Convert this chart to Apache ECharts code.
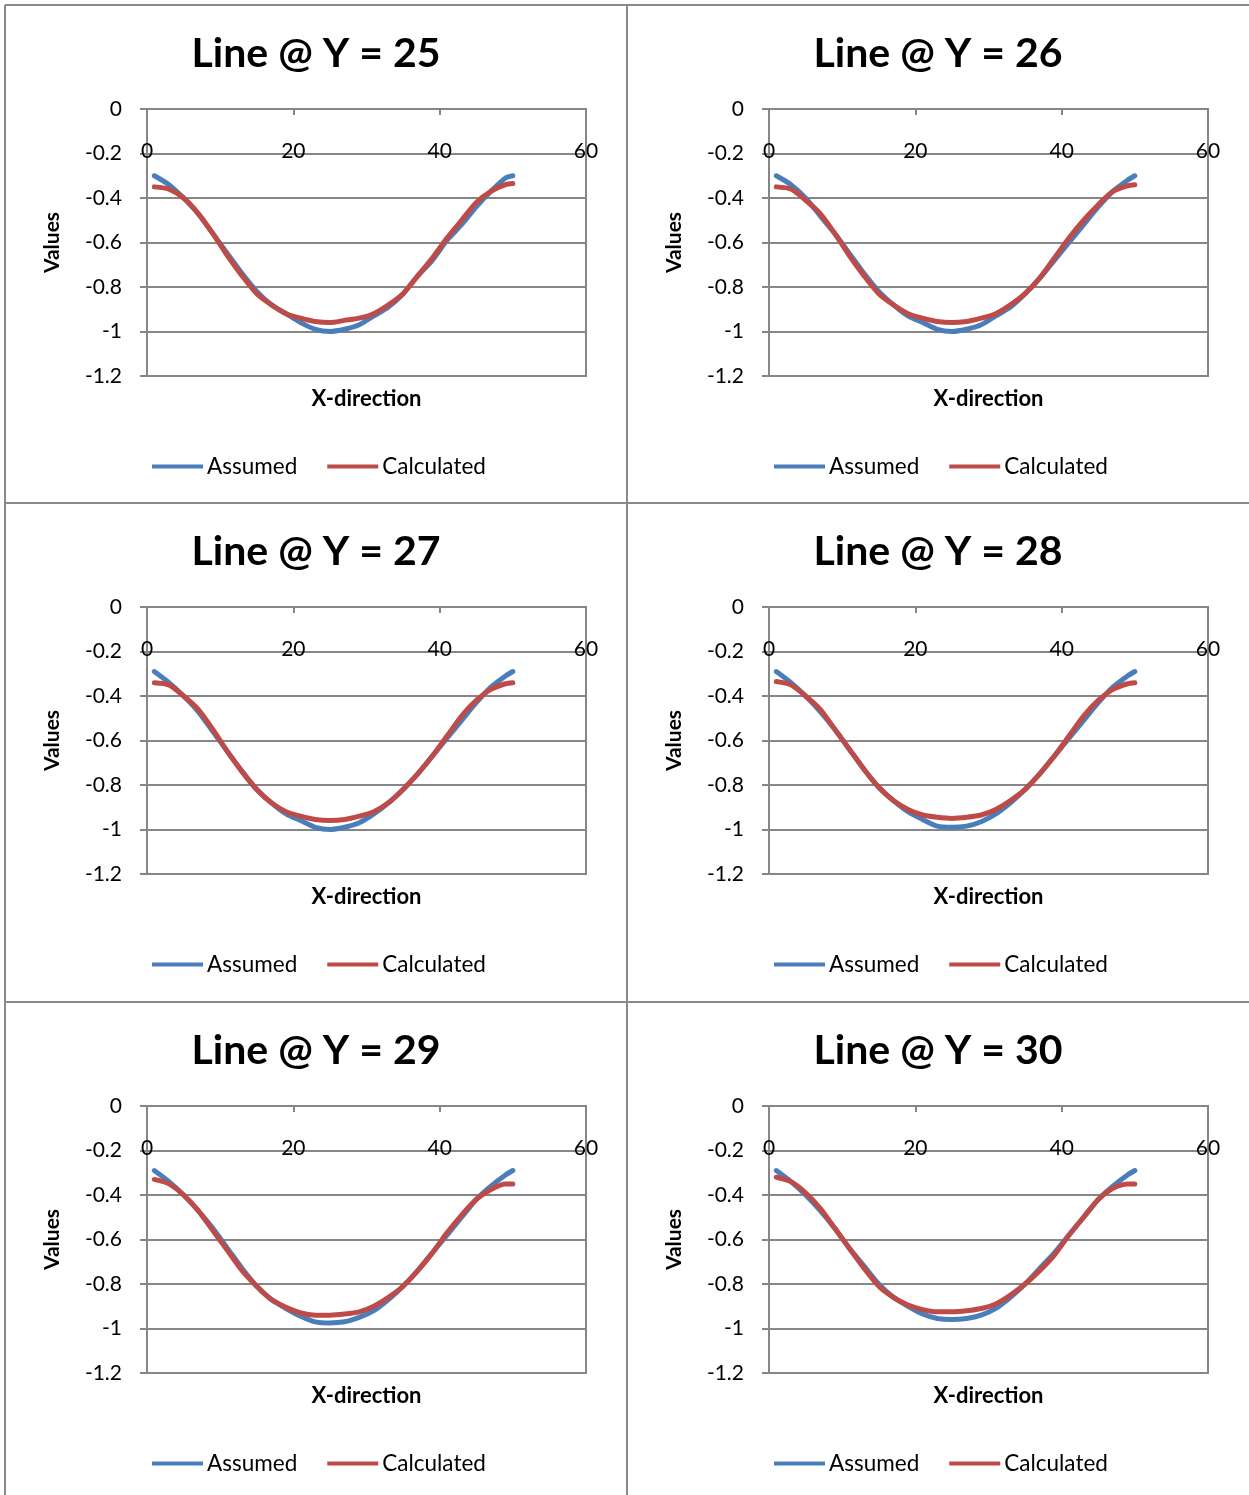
<!DOCTYPE html>
<html>
<head>
<meta charset="utf-8">
<script src="https://cdn.jsdelivr.net/npm/echarts@6/dist/echarts.min.js"></script>
<style>
  html, body { margin: 0; padding: 0; background: #fff; }
  #chart { width: 1249px; height: 1495px; }
</style>
</head>
<body>
<div id="chart"></div>
<script>
// x positions (every other point)
var xValues = [1, 3, 5, 7, 9, 11, 13, 15, 17, 19, 21, 23, 25, 27, 29, 31, 33, 35, 37, 39, 41, 43, 45, 47, 49, 50]
var yLines = [25, 26, 27, 28, 29, 30]
var seriesNames = ['Assumed', 'Calculated']

var assumed25 = [-0.30, -0.34, -0.40, -0.47, -0.56, -0.65, -0.74, -0.82, -0.88, -0.92, -0.96, -0.99, -1.00, -0.99, -0.97, -0.93, -0.89, -0.83, -0.75, -0.68, -0.59, -0.52, -0.44, -0.37, -0.31, -0.30]
var calculated25 = [-0.35, -0.36, -0.40, -0.47, -0.56, -0.66, -0.75, -0.83, -0.88, -0.92, -0.94, -0.955, -0.96, -0.95, -0.94, -0.92, -0.88, -0.83, -0.75, -0.67, -0.58, -0.50, -0.42, -0.37, -0.34, -0.335]

var assumed26 = [-0.30, -0.34, -0.40, -0.48, -0.56, -0.65, -0.74, -0.82, -0.88, -0.93, -0.96, -0.99, -1.00, -0.99, -0.97, -0.93, -0.89, -0.83, -0.76, -0.68, -0.60, -0.52, -0.44, -0.37, -0.32, -0.30]
var calculated26 = [-0.35, -0.36, -0.41, -0.47, -0.56, -0.66, -0.75, -0.83, -0.88, -0.92, -0.94, -0.955, -0.96, -0.955, -0.94, -0.92, -0.88, -0.83, -0.76, -0.67, -0.58, -0.50, -0.43, -0.37, -0.345, -0.34]

var assumed27 = [-0.29, -0.34, -0.40, -0.47, -0.56, -0.65, -0.74, -0.82, -0.88, -0.93, -0.96, -0.99, -1.00, -0.99, -0.97, -0.93, -0.88, -0.82, -0.75, -0.67, -0.59, -0.51, -0.43, -0.36, -0.31, -0.29]
var calculated27 = [-0.34, -0.35, -0.40, -0.46, -0.55, -0.65, -0.74, -0.82, -0.88, -0.92, -0.94, -0.955, -0.96, -0.955, -0.94, -0.92, -0.88, -0.82, -0.75, -0.67, -0.58, -0.49, -0.42, -0.37, -0.345, -0.34]

var assumed28 = [-0.29, -0.34, -0.40, -0.47, -0.55, -0.64, -0.73, -0.81, -0.87, -0.92, -0.955, -0.985, -0.99, -0.985, -0.965, -0.93, -0.88, -0.82, -0.75, -0.67, -0.59, -0.51, -0.43, -0.36, -0.31, -0.29]
var calculated28 = [-0.335, -0.35, -0.40, -0.46, -0.55, -0.64, -0.73, -0.81, -0.87, -0.91, -0.935, -0.945, -0.95, -0.945, -0.935, -0.91, -0.87, -0.82, -0.75, -0.67, -0.58, -0.49, -0.42, -0.37, -0.345, -0.34]

var assumed29 = [-0.29, -0.34, -0.40, -0.47, -0.55, -0.64, -0.73, -0.81, -0.87, -0.91, -0.945, -0.97, -0.975, -0.97, -0.95, -0.92, -0.87, -0.81, -0.74, -0.66, -0.58, -0.50, -0.42, -0.36, -0.31, -0.29]
var calculated29 = [-0.33, -0.35, -0.40, -0.47, -0.56, -0.65, -0.74, -0.81, -0.87, -0.905, -0.93, -0.94, -0.94, -0.935, -0.925, -0.90, -0.86, -0.81, -0.74, -0.66, -0.57, -0.49, -0.42, -0.375, -0.35, -0.35]

var assumed30 = [-0.29, -0.34, -0.40, -0.47, -0.55, -0.64, -0.72, -0.80, -0.86, -0.90, -0.935, -0.955, -0.96, -0.955, -0.94, -0.91, -0.86, -0.80, -0.73, -0.66, -0.58, -0.50, -0.42, -0.36, -0.31, -0.29]
var calculated30 = [-0.32, -0.34, -0.39, -0.46, -0.55, -0.64, -0.73, -0.81, -0.86, -0.895, -0.915, -0.925, -0.925, -0.92, -0.91, -0.89, -0.85, -0.80, -0.74, -0.67, -0.58, -0.50, -0.42, -0.37, -0.35, -0.35]

var assumedSets = [assumed25, assumed26, assumed27, assumed28, assumed29, assumed30]
var calculatedSets = [calculated25, calculated26, calculated27, calculated28, calculated29, calculated30]

var FONT = 'Lato, "Open Sans", sans-serif'
var GREY = '#868686'
var colX = [6, 628]
var rowY = [6, 504, 1003]

function pairs(values) {
  return xValues.map(function (x, i) { return [x, values[i]] })
}

var titles = [], grids = [], xAxes = [], yAxes = [], legends = [], series = []

yLines.forEach(function (yLine, i) {
  var cx = colX[i % 2]
  var ry = rowY[Math.floor(i / 2)]

  titles.push({
    text: 'Line @ Y = ' + yLine,
    left: cx + 310,
    top: ry + 27,
    textAlign: 'center',
    padding: 0,
    textStyle: { fontFamily: FONT, fontWeight: 'bold', fontSize: 41, color: '#000' },
  })

  grids.push({
    left: cx + 141,
    top: ry + 103,
    width: 439,
    height: 267,
    show: true,
    borderColor: GREY,
    borderWidth: 2,
    backgroundColor: 'transparent',
  })

  // value axis drawn along y = 0 (top of the plot)
  xAxes.push({
    type: 'value',
    gridIndex: i,
    position: 'top',
    min: 0,
    max: 60,
    interval: 20,
    axisLine: { onZero: false, lineStyle: { color: GREY, width: 2 } },
    axisTick: { inside: true, length: 6, lineStyle: { color: GREY, width: 2 } },
    axisLabel: { inside: true, margin: 32, fontFamily: FONT, fontSize: 21, color: '#000' },
    splitLine: { show: false },
  })
  // bottom axis only carries the axis title
  xAxes.push({
    type: 'value',
    gridIndex: i,
    position: 'bottom',
    min: 0,
    max: 60,
    name: 'X-direction',
    nameLocation: 'middle',
    nameGap: 12,
    nameTextStyle: { fontFamily: FONT, fontWeight: 'bold', fontSize: 22, color: '#000', verticalAlign: 'top' },
    axisLine: { show: false },
    axisTick: { show: false },
    axisLabel: { show: false },
    splitLine: { show: false },
  })

  yAxes.push({
    type: 'value',
    gridIndex: i,
    min: -1.2,
    max: 0,
    interval: 0.2,
    name: 'Values',
    nameLocation: 'middle',
    nameRotate: 90,
    nameGap: 84,
    nameTextStyle: { fontFamily: FONT, fontWeight: 'bold', fontSize: 21, color: '#000' },
    axisLine: { onZero: false, lineStyle: { color: GREY, width: 2 } },
    axisTick: { length: 7, lineStyle: { color: GREY, width: 2 } },
    axisLabel: { margin: 25, fontFamily: FONT, fontSize: 21, color: '#000' },
    splitLine: { lineStyle: { color: GREY, width: 2 } },
  })

  legends.push({
    data: seriesNames,
    left: cx + 146,
    top: ry + 449,
    padding: 0,
    icon: 'rect',
    itemWidth: 51,
    itemHeight: 4,
    itemGap: 30,
    textStyle: { fontFamily: FONT, fontSize: 22.5, color: '#000', padding: [0, 0, 0, -1] },
  })

  series.push({
    name: 'Assumed',
    type: 'line',
    xAxisIndex: i * 2,
    yAxisIndex: i,
    data: pairs(assumedSets[i]),
    showSymbol: false,
    smooth: 0.25,
    lineStyle: { color: '#4a7ebb', width: 5, cap: 'round', join: 'round' },
    itemStyle: { color: '#4a7ebb' },
  })
  series.push({
    name: 'Calculated',
    type: 'line',
    xAxisIndex: i * 2,
    yAxisIndex: i,
    data: pairs(calculatedSets[i]),
    showSymbol: false,
    smooth: 0.25,
    lineStyle: { color: '#be4b48', width: 5, cap: 'round', join: 'round' },
    itemStyle: { color: '#be4b48' },
  })
})

// panel frame lines
var frame = [
  [5, 5, 1249, 5], [5, 503, 1249, 503], [5, 1002, 1249, 1002],
  [5, 5, 5, 1495], [627, 5, 627, 1495],
].map(function (l) {
  return { type: 'line', shape: { x1: l[0], y1: l[1], x2: l[2], y2: l[3] }, style: { stroke: '#8a8a8a', lineWidth: 2 }, silent: true }
})

var myChart = echarts.init(document.getElementById('chart'), null, { renderer: 'canvas' })
myChart.setOption({
  animation: false,
  backgroundColor: '#fff',
  title: titles,
  grid: grids,
  xAxis: xAxes,
  yAxis: yAxes,
  legend: legends,
  series: series,
  graphic: frame,
})
</script>
</body>
</html>
